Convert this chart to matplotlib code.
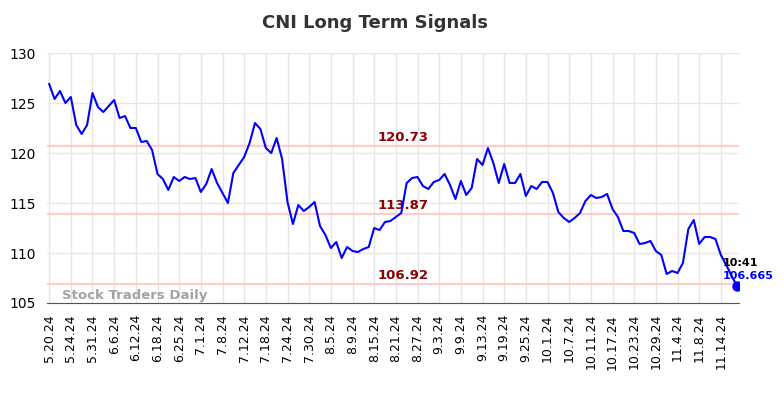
import numpy as np
import matplotlib
matplotlib.use('Agg')
import matplotlib.pyplot as plt

# ---------------------------------------------------------------------------
# data (one value per trading day)
# ---------------------------------------------------------------------------
prices = [
    126.9, 125.4, 126.2, 125.0, 125.6, 122.8, 121.9, 122.8, 126.0, 124.6,
    124.1, 124.7, 125.3, 123.5, 123.7, 122.5, 122.5, 121.1, 121.2, 120.3,
    117.9, 117.4, 116.3, 117.6, 117.2, 117.6, 117.4, 117.5, 116.1, 116.9,
    118.4, 117.0, 116.0, 115.0, 118.0, 118.8, 119.6, 121.0, 123.0, 122.4,
    120.5, 120.0, 121.5, 119.4, 115.1, 112.9, 114.8, 114.2, 114.6, 115.1,
    112.7, 111.8, 110.5, 111.1, 109.5, 110.6, 110.2, 110.1, 110.4, 110.6,
    112.5, 112.3, 113.1, 113.2, 113.6, 114.0, 117.0, 117.5, 117.6, 116.7,
    116.4, 117.1, 117.3, 117.9, 116.8, 115.4, 117.2, 115.8, 116.5, 119.4,
    118.8, 120.5, 119.0, 117.0, 118.9, 117.0, 117.0, 117.9, 115.7, 116.7,
    116.4, 117.1, 117.1, 116.0, 114.1, 113.5, 113.1, 113.5, 114.0, 115.2,
    115.8, 115.5, 115.6, 115.9, 114.4, 113.6, 112.2, 112.2, 112.0, 110.9,
    111.0, 111.2, 110.2, 109.8, 107.9, 108.2, 108.0, 109.0, 112.4, 113.3,
    110.9, 111.6, 111.6, 111.4, 109.8, 108.8, 107.7, 106.665,
]

tick_labels = [
    '5.20.24', '5.24.24', '5.31.24', '6.6.24', '6.12.24', '6.18.24',
    '6.25.24', '7.1.24', '7.8.24', '7.12.24', '7.18.24', '7.24.24',
    '7.30.24', '8.5.24', '8.9.24', '8.15.24', '8.21.24', '8.27.24',
    '9.3.24', '9.9.24', '9.13.24', '9.19.24', '9.25.24', '10.1.24',
    '10.7.24', '10.11.24', '10.17.24', '10.23.24', '10.29.24', '11.4.24',
    '11.8.24', '11.14.24',
]
tick_step = 4

signal_levels = [120.73, 113.87, 106.92]
last_time = '10:41'

# ---------------------------------------------------------------------------
# plot
# ---------------------------------------------------------------------------
fig = plt.figure(figsize=(7.84, 3.98), dpi=100)
ax = fig.add_axes([0.0596, 0.2387, 0.883, 0.6281])

x = np.arange(len(prices))

# signal lines + labels
for lvl in signal_levels:
    ax.axhline(lvl, color='#ffcccc', linewidth=1.6, zorder=1)
    ax.text(65.3, lvl + 0.2, f'{lvl:.2f}', color='#8b0000', fontsize=9.5,
            fontweight='bold', ha='center', va='bottom', zorder=3)

ax.plot(x, prices, color='#0000ff', linewidth=1.5, zorder=4)
ax.plot(x[-1], prices[-1], 'o', color='#0000ff', markersize=6.5, zorder=5)

# last value annotation
ax.text(x[-1] - 2.75, 108.97, last_time, fontsize=8, fontweight='bold',
        color='black', ha='left', va='center', zorder=6)
ax.text(x[-1] - 2.75, 107.73, f'{prices[-1]:g}', fontsize=8,
        fontweight='bold', color='#0000ff', ha='left', va='center', zorder=6)

ax.text(2.4, 105.1, 'Stock Traders Daily', fontsize=9.5, fontweight='bold',
        color='#999999', alpha=0.9, ha='left', va='bottom', zorder=2)

ax.set_xlim(-0.45, 127.35)
ax.set_ylim(105, 130)
ax.set_yticks([105, 110, 115, 120, 125, 130])
ax.set_xticks(np.arange(0, len(tick_labels) * tick_step, tick_step))
ax.set_xticklabels(tick_labels, rotation=90, fontsize=9)
ax.tick_params(axis='y', labelsize=10, length=0, pad=8)
ax.tick_params(axis='x', length=0, pad=8)

ax.grid(True, color='#e6e6e6', linewidth=1)
ax.set_axisbelow(True)
for side in ['left', 'right', 'top']:
    ax.spines[side].set_visible(False)
ax.spines['bottom'].set_color('#555555')

fig.suptitle('CNI Long Term Signals', x=0.478, y=0.965, fontsize=13,
             fontweight='bold', color='#333333')

fig.savefig('out.png', dpi=100, facecolor='white')
